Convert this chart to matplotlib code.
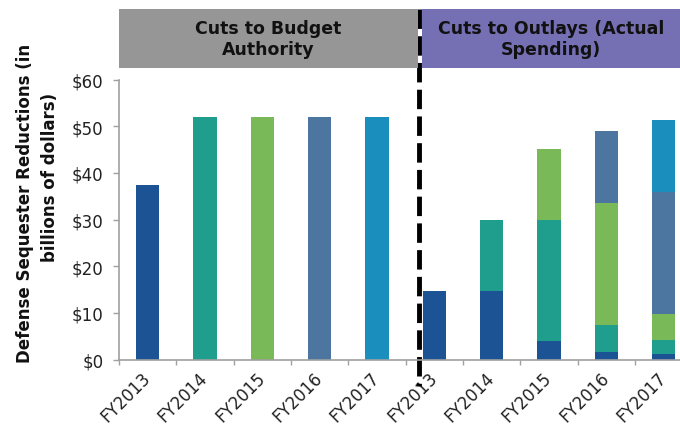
import numpy as np
import matplotlib
matplotlib.use('Agg')
import matplotlib.pyplot as plt
from matplotlib.patches import Rectangle
from matplotlib.transforms import blended_transform_factory

# data (billions of dollars)
years = ['FY2013', 'FY2014', 'FY2015', 'FY2016', 'FY2017']
budget_authority = [37.3, 51.9, 51.9, 51.9, 51.9]
# outlays by the fiscal year of the budget authority they come from
out_from_2013 = [14.6, 14.7, 3.9, 1.7, 1.1]
out_from_2014 = [0, 15.3, 26.0, 5.8, 3.1]
out_from_2015 = [0, 0, 15.2, 26.1, 5.6]
out_from_2016 = [0, 0, 0, 15.3, 26.0]
out_from_2017 = [0, 0, 0, 0, 15.5]
yticks = [0, 10, 20, 30, 40, 50, 60]

colors = ['#1b5394', '#1f9e8d', '#7ab958', '#4c76a0', '#1a8fbd']
W, H = 680, 431
fig = plt.figure(figsize=(W / 100, H / 100), dpi=100)
ax = fig.add_axes([119 / W, (H - 360.5) / H, 561 / W, 280 / H])

bw = 0.41
xb = np.arange(5)
ax.bar(xb, budget_authority, width=bw, color=colors, linewidth=0)

xo = np.arange(5) + 5
bottom = np.zeros(5)
for vals, c in zip([out_from_2013, out_from_2014, out_from_2015,
                    out_from_2016, out_from_2017], colors):
    ax.bar(xo, vals, width=bw, bottom=bottom, color=c, linewidth=0)
    bottom += np.array(vals)

ax.set_xlim(-0.5, -0.5 + 561 / 57.33)
ax.set_ylim(0, 60)
ax.set_yticks(yticks)
ax.set_yticklabels(['$%d' % v for v in yticks], fontsize=12, color='#222222')
ax.set_xticks(np.arange(10))
ax.set_xticklabels(years + years, rotation=45, ha='right', va='center',
                   rotation_mode='anchor', fontsize=12, color='#222222')
ax.set_xticks(np.arange(10) - 0.5, minor=True)
ax.tick_params(axis='x', which='major', length=0, pad=11)
ax.tick_params(axis='x', which='minor', length=3.6, color='#a0a0a0', width=1)
ax.tick_params(axis='y', length=4.3, color='#a0a0a0', width=1, pad=7)
for s in ['top', 'right']:
    ax.spines[s].set_visible(False)
for s in ['left', 'bottom']:
    ax.spines[s].set_color('#a0a0a0')
    ax.spines[s].set_linewidth(1.2)

fig.text(25 / W, (H - 203) / H, 'Defense Sequester Reductions (in',
         rotation=90, ha='center', va='center', fontsize=12,
         fontweight='bold', color='#111111')
fig.text(50 / W, (H - 177) / H, 'billions of dollars)',
         rotation=90, ha='center', va='center', fontsize=12,
         fontweight='bold', color='#111111')

# header boxes
fig.add_artist(Rectangle((119 / W, (H - 69) / H), 299 / W, 59 / H,
                         transform=fig.transFigure, color='#969696', lw=0))
fig.add_artist(Rectangle((422 / W, (H - 69) / H), 258 / W, 59 / H,
                         transform=fig.transFigure, color='#7570b3', lw=0))
fig.text(268 / W, (H - 39.5) / H, 'Cuts to Budget\nAuthority', ha='center',
         va='center', fontsize=12.5, fontweight='bold', color='#111111',
         linespacing=1.15)
fig.text(551 / W, (H - 39.5) / H, 'Cuts to Outlays (Actual\nSpending)',
         ha='center', va='center', fontsize=12.5, fontweight='bold',
         color='#111111', linespacing=1.15)

# divider
tr = blended_transform_factory(ax.transData, fig.transFigure)
ax.plot([4.74, 4.74], [(H - 10) / H, (H - 387) / H], transform=tr,
        color='black', lw=3.5, ls=(0, (4, 1.5)), clip_on=False)

fig.savefig('out.png', dpi=100)
